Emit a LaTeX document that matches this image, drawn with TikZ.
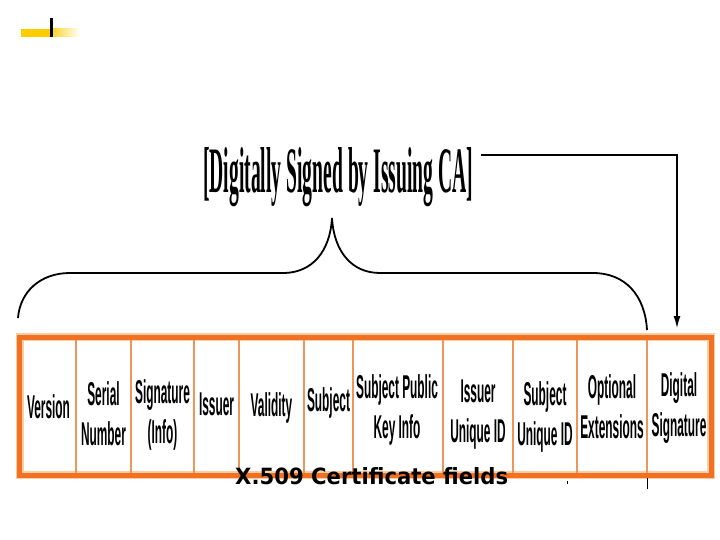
\documentclass[tikz,border=0pt]{standalone}
\usepackage{fontspec}
\usepackage{graphicx}
\setmainfont{Liberation Serif}
\newfontfamily\fieldfont{Liberation Sans}
\newfontfamily\capfont{DejaVu Sans}
\usetikzlibrary{arrows.meta}
\definecolor{bandorange}{RGB}{242,112,33}
\definecolor{bandfringe}{RGB}{250,205,165}
\definecolor{divorange}{RGB}{238,150,90}
\definecolor{logoyellow}{RGB}{255,204,0}
\newcommand{\fld}[1]{\scalebox{0.36}[1]{\fieldfont\fontsize{33}{40}\selectfont\bfseries\begin{tabular}[t]{@{}c@{}}#1\end{tabular}}}
\tikzset{
  fieldtext/.style={anchor=base, inner sep=0pt, text=black},
  divider/.style={draw=divorange, line width=1.1pt},
  bracestroke/.style={draw=black, line width=1.8pt},
  signarrow/.style={draw=black, line width=1.2pt, -{Latex[length=12pt,width=7pt]}},
}
\begin{document}
\begin{tikzpicture}[x=1pt,y=-1pt]
\fill[white] (0,0) rectangle (720,540);
\useasboundingbox (0,0) rectangle (720,540);
% logo
\fill[logoyellow] (21,29) rectangle (50,37);
\shade[left color=logoyellow!80, right color=white] (53,29) rectangle (80,37);
\fill[black] (50,18) rectangle (53,37);
% title
\node[anchor=base west, inner sep=0pt] (title) at (203,193)
  {\resizebox{270pt}{45pt}{\bfseries [Digitally Signed by Issuing CA]}};
\coordinate (arrowstart) at (481,155);
\coordinate (arrowturn) at (677,155);
\coordinate (sigtop) at (677,328);
\draw[signarrow] (arrowstart) -- (arrowturn) -- (sigtop);
% brace
\coordinate (braceL) at (18,318);
\coordinate (braceTip) at (332,218);
\coordinate (braceR) at (647,330);
\draw[bracestroke] (braceL) .. controls (20,292) and (40,273) .. (70,273)
  -- (285,273) .. controls (312,272) and (330,252) .. (braceTip)
  .. controls (334,252) and (352,273) .. (380,273)
  -- (593,273) .. controls (625,273) and (645,295) .. (braceR);
% certificate band
\draw[bandfringe, line width=8pt] (19.5,337) rectangle (711,475);
\foreach \xx in {76,131,194,239,304,353,443,513,577,647}
  \draw[divider] (\xx,339) -- (\xx,473);
\draw[bandorange, line width=5pt] (19.5,337) rectangle (711,475);
\draw[black, line width=1pt] (647,478) -- (647,489);
\draw[black, line width=1pt] (567,481) -- (567,484);
% fields
\node[fieldtext] (version) at (48.5,418) {\fld{Version}};
\node[fieldtext] (serial) at (103.5,405) {\fld{Serial\\Number}};
\node[fieldtext] (siginfo) at (162.5,403) {\fld{Signature\\(Info)}};
\node[fieldtext] (issuer) at (216.5,415) {\fld{Issuer}};
\node[fieldtext] (validity) at (271.5,416) {\fld{Validity}};
\node[fieldtext] (subject) at (328.5,411) {\fld{Subject}};
\node[fieldtext] (spki) at (397,398) {\fld{Subject Public\\Key Info}};
\node[fieldtext] (iuid) at (478,402) {\fld{Issuer\\Unique ID}};
\node[fieldtext] (suid) at (545,405) {\fld{Subject\\Unique ID}};
\node[fieldtext] (ext) at (612,398) {\fld{Optional\\Extensions}};
\node[fieldtext] (dsig) at (679,396) {\fld{Digital\\Signature}};
% caption
\node[anchor=base west, inner sep=0pt] (caption) at (235,484)
  {\resizebox{273pt}{17pt}{\capfont\bfseries X.509 Certificate fields}};
\end{tikzpicture}
\end{document}
